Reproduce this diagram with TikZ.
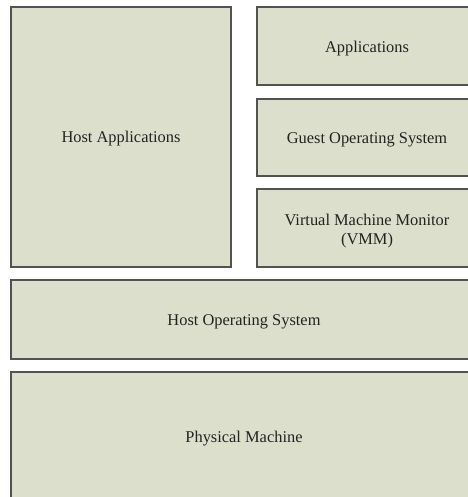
\documentclass[tikz,border=0pt]{standalone}
\usepackage{fontspec}
\setmainfont{Liberation Serif}
\definecolor{boxfill}{RGB}{220,223,203}
\definecolor{boxline}{RGB}{80,83,78}
\definecolor{txt}{RGB}{35,35,35}
\begin{document}
\begin{tikzpicture}[x=1pt,y=-1pt,
  layer/.style={draw=boxline, line width=1.8pt, fill=boxfill},
  lbl/.style={text=txt, font=\fontsize{16.4}{18.7}\selectfont, align=center}]
\useasboundingbox (0,0) rectangle (467,497);
\fill[white] (0,0) rectangle (467,497);
\draw[layer] (11,7) rectangle (231,267);
\draw[layer] (257,7) rectangle (477,85);
\draw[layer] (257,99) rectangle (477,176);
\draw[layer] (257,189) rectangle (477,267);
\draw[layer] (11,280) rectangle (477,359);
\draw[layer] (11,372) rectangle (477,503);
\node[lbl] (hostapps) at (121,139) {Host Applications};
\node[lbl] (apps) at (367,49) {Applications};
\node[lbl] (guestos) at (367,140) {Guest Operating System};
\node[lbl] (vmm) at (367,231) {Virtual Machine Monitor\\(VMM)};
\node[lbl] (hostos) at (244,322) {Host Operating System};
\node[lbl] (phys) at (244,439) {Physical Machine};
\end{tikzpicture}
\end{document}
